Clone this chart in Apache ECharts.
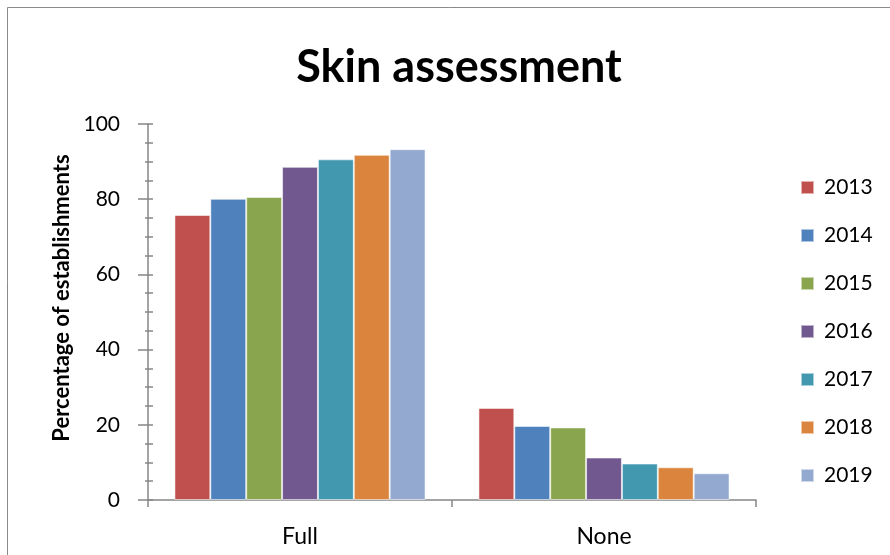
<!DOCTYPE html>
<html>
<head>
<meta charset="utf-8">
<style>
  html, body { margin: 0; padding: 0; background: #ffffff; }
  #chart { width: 890px; height: 555px; }
</style>
<script src="https://cdn.jsdelivr.net/npm/echarts@6/dist/echarts.min.js"></script>
</head>
<body>
<div id="chart"></div>
<script>
// Percentage of establishments by assessment level, one series per year
const categories = ['Full', 'None'];
const years = ['2013', '2014', '2015', '2016', '2017', '2018', '2019'];
const values2013 = [75.8, 24.5];
const values2014 = [80.1, 19.7];
const values2015 = [80.6, 19.3];
const values2016 = [88.6, 11.3];
const values2017 = [90.6, 9.7];
const values2018 = [91.8, 8.7];
const values2019 = [93.3, 7.1];
const yTicks = { min: 0, max: 100, interval: 20 };

const seriesValues = [values2013, values2014, values2015, values2016, values2017, values2018, values2019];
const palette = ['#C0504D', '#4F81BD', '#89A54E', '#71588F', '#4198AF', '#DB843D', '#93A9CF'];

const fontFamily = 'Lato, "Open Sans", sans-serif';
const axisGray = '#868686';

const chart = echarts.init(document.getElementById('chart'), null, { renderer: 'canvas' });

chart.setOption({
  animation: false,
  backgroundColor: '#ffffff',
  color: palette,
  title: {
    text: 'Skin assessment',
    left: 454,
    textAlign: 'center',
    top: 40,
    textStyle: { fontFamily, fontWeight: 'bold', fontSize: 45, color: '#000000' }
  },
  graphic: [{
    type: 'rect',
    silent: true,
    shape: { x: 7.5, y: 7.5, width: 920, height: 600 },
    style: { fill: 'none', stroke: '#8a8a8a', lineWidth: 1 }
  }],
  legend: {
    orient: 'vertical',
    left: 795,
    top: 172,
    itemWidth: 13,
    itemHeight: 13,
    itemGap: 27,
    icon: 'rect',
    data: years,
    textStyle: { fontFamily, fontSize: 21, lineHeight: 21, color: '#000000', padding: [0, 0, 0, 5] }
  },
  grid: { left: 148, right: 134, top: 124, bottom: 55, containLabel: false },
  xAxis: {
    type: 'category',
    data: categories,
    axisLine: { lineStyle: { color: axisGray, width: 1.5 } },
    axisTick: { show: true, length: 7, lineStyle: { color: axisGray, width: 1.5 } },
    axisLabel: { fontFamily, fontSize: 23, color: '#000000', margin: 25 },
    splitLine: { show: false }
  },
  yAxis: [{
    type: 'value',
    min: yTicks.min,
    max: yTicks.max,
    interval: yTicks.interval,
    name: 'Percentage of establishments',
    nameLocation: 'middle',
    nameGap: 75,
    nameTextStyle: { fontFamily, fontWeight: 'bold', fontSize: 22, color: '#000000', padding: [0, 0, 0, 28] },
    axisLine: { show: true, lineStyle: { color: axisGray, width: 1.5 } },
    axisTick: { show: true, length: 10, lineStyle: { color: axisGray, width: 1.5 } },
    minorTick: { show: true, splitNumber: 4, length: 3, lineStyle: { color: axisGray, width: 1.5 } },
    axisLabel: { fontFamily, fontSize: 21, color: '#000000', margin: 28 },
    splitLine: { show: false }
  }, {
    // inner half of the crossing tick marks
    type: 'value',
    position: 'left',
    min: yTicks.min,
    max: yTicks.max,
    interval: yTicks.interval,
    axisLine: { show: false },
    axisTick: { show: true, inside: true, length: 5, lineStyle: { color: axisGray, width: 1.5 } },
    minorTick: { show: true, splitNumber: 4, length: 5, lineStyle: { color: axisGray, width: 1.5 } },
    axisLabel: { show: false },
    splitLine: { show: false }
  }],
  series: years.map((year, i) => ({
    name: year,
    type: 'bar',
    yAxisIndex: 0,
    data: seriesValues[i],
    barGap: '0%',
    barCategoryGap: '17.4%',
    itemStyle: { color: palette[i], borderColor: 'rgba(255,255,255,0.55)', borderWidth: 1 }
  }))
});
</script>
</body>
</html>
